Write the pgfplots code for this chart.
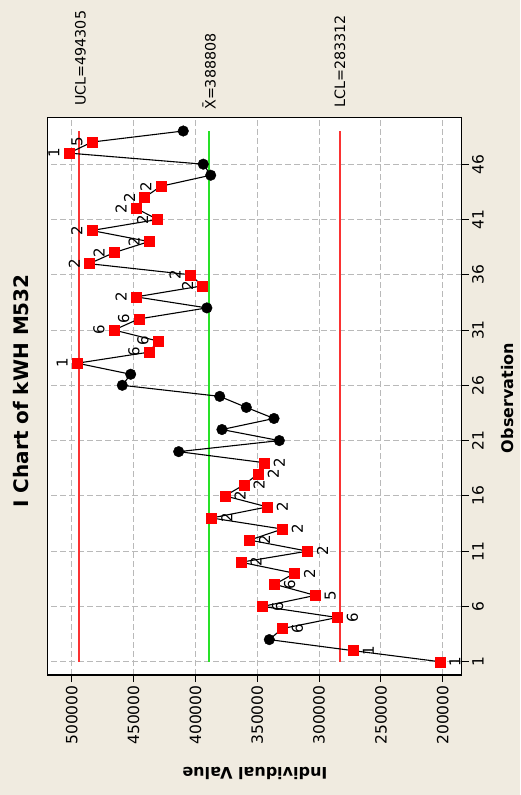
\documentclass[border=0pt]{standalone}
\usepackage{pgfplots}
\usepackage{pgfplotstable}
\pgfplotsset{compat=1.18}
\usepackage{fontspec}
\setmainfont{DejaVu Sans}
\definecolor{bg}{RGB}{240,235,224}
\definecolor{ucolred}{RGB}{250,50,50}
\definecolor{ctrlgreen}{RGB}{40,225,40}
\definecolor{gridgray}{RGB}{185,185,185}

\pgfplotstableread{
o v
1 202200
2 272300
3 340200
4 329700
5 285200
6 345600
7 303000
8 335900
9 319700
10 363100
11 309200
12 356100
13 329700
14 386800
15 341800
16 376000
17 360700
18 349100
19 344300
20 413500
21 332100
22 378500
23 336400
24 358800
25 380300
26 459100
27 452300
28 495500
29 437500
30 430200
31 465800
32 445800
33 390700
34 448000
35 394100
36 404300
37 485800
38 465800
39 437500
40 483800
41 430500
42 448000
43 441000
44 428000
45 387600
46 393600
47 502200
48 483600
49 409800
}\alldata

\pgfplotstableread{
o v
3 340200
20 413500
21 332100
22 378500
23 336400
24 358800
25 380300
26 459100
27 452300
33 390700
45 387600
46 393600
49 409800
}\blackdata

\pgfplotstableread{
o v t
1 202200 1
2 272300 1
4 329700 6
5 285200 6
6 345600 6
7 303000 5
8 335900 6
9 319700 2
10 363100 2
11 309200 2
12 356100 2
13 329700 2
14 386800 2
15 341800 2
16 376000 2
17 360700 2
18 349100 2
19 344300 2
}\redbelow

\pgfplotstableread{
o v t
28 495500 1
29 437500 6
30 430200 6
31 465800 6
32 445800 6
34 448000 2
35 394100 2
36 404300 2
37 485800 2
38 465800 2
39 437500 2
40 483800 2
41 430500 2
42 448000 2
43 441000 2
44 428000 2
47 502200 1
48 483600 5
}\redabove

\pgfplotstableread{
o ucl cl lcl
1 494305 388808 283312
49 494305 388808 283312
}\limits

\begin{document}
\begin{tikzpicture}
\fill[bg] (0pt,0pt) rectangle (520pt,795pt);
\useasboundingbox (0pt,0pt) rectangle (520pt,795pt);
\begin{axis}[
  at={(254.5pt,398.85pt)}, anchor=center,
  scale only axis, width=414.4pt, height=557.7pt,
  x dir=reverse,
  xmin=184637, xmax=519730, ymin=-0.2, ymax=50.24,
  axis background/.style={fill=white},
  axis line style={black, line width=1.2pt},
  xtick={200000,250000,300000,350000,400000,450000,500000},
  ytick={1,6,11,16,21,26,31,36,41,46},
  xtick pos=left, ytick pos=right, yticklabel pos=right,
  tick align=outside, major tick length=7pt,
  tick style={black, line width=1pt},
  grid=major, grid style={gridgray, dash pattern=on 6pt off 3pt, line width=1pt},
  scaled x ticks=false,
  xticklabel style={rotate=90, anchor=east, font=\fontsize{15.5}{18}\selectfont},
  yticklabel style={rotate=90, anchor=north, font=\fontsize{15.5}{18}\selectfont},
  /pgf/number format/fixed,
  /pgf/number format/set thousands separator={},
  /pgf/number format/assume math mode=true,
  clip=false,
]
\addplot[draw=ucolred, line width=1.8pt] table[x=ucl, y=o] {\limits};
\addplot[draw=ctrlgreen, line width=1.8pt] table[x=cl, y=o] {\limits};
\addplot[draw=ucolred, line width=1.8pt] table[x=lcl, y=o] {\limits};
\addplot[black, line width=1.1pt, mark=none] table[x=v, y=o] {\alldata};
\addplot[only marks, mark=*, mark size=5.3pt, black] table[x=v, y=o] {\blackdata};
\addplot[only marks, mark=square*, mark size=5pt, red,
  nodes near coords, point meta=explicit symbolic,
  every node near coord/.style={text=black, anchor=center, inner sep=0pt, xshift=15pt, rotate=90, font=\fontsize{15}{18}\selectfont}]
  table[x=v, y=o, meta=t] {\redbelow};
\addplot[only marks, mark=square*, mark size=5pt, red,
  nodes near coords, point meta=explicit symbolic,
  every node near coord/.style={text=black, anchor=center, inner sep=0pt, xshift=-15pt, rotate=90, font=\fontsize{15}{18}\selectfont}]
  table[x=v, y=o, meta=t] {\redabove};
\end{axis}
\node[rotate=90, inner sep=0pt, font=\fontsize{20}{24}\selectfont\bfseries] at (20.7pt,404pt) {I Chart of kWH M532};
\node[rotate=90, inner sep=0pt, font=\fontsize{16}{19}\selectfont\bfseries] at (508pt,397pt) {Observation};
\node[rotate=180, inner sep=0pt, font=\fontsize{16}{19}\selectfont\bfseries] at (255pt,22pt) {Individual Value};
\node[rotate=90, anchor=base west, inner sep=0pt, font=\fontsize{14.3}{17}\selectfont] at (85.5pt,689pt) {UCL=494305};
\node[rotate=90, anchor=base west, inner sep=0pt, font=\fontsize{14.3}{17}\selectfont] at (215.7pt,685pt) {X̄=388808};
\node[rotate=90, anchor=base west, inner sep=0pt, font=\fontsize{14.3}{17}\selectfont] at (345pt,687pt) {LCL=283312};
\end{tikzpicture}
\end{document}
